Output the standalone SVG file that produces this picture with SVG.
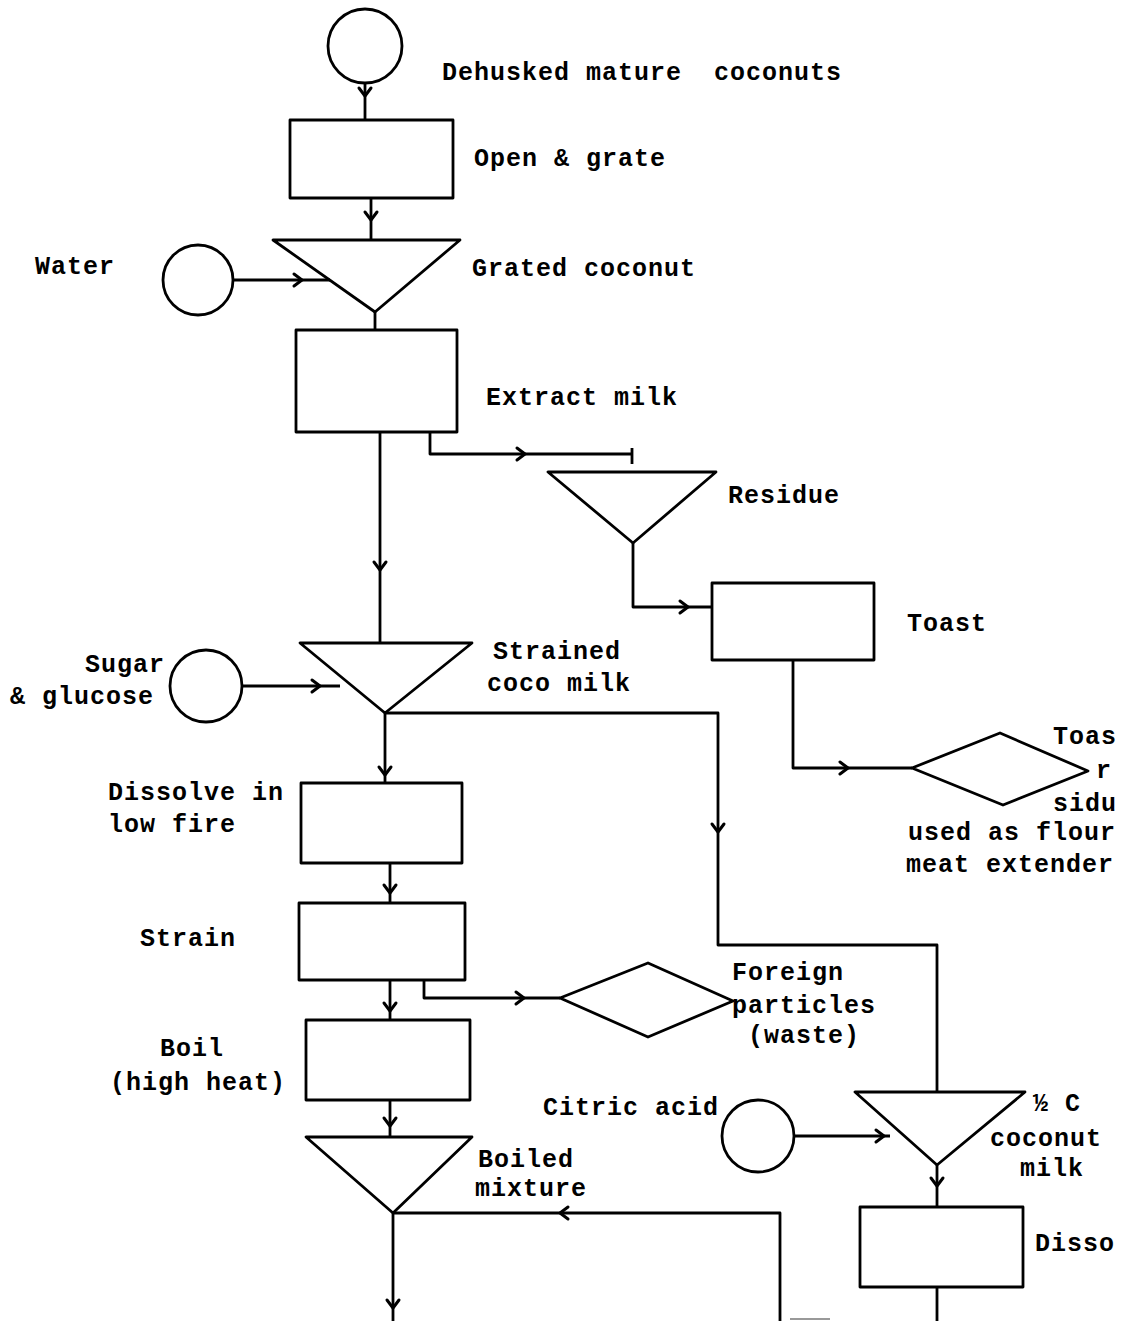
<svg xmlns="http://www.w3.org/2000/svg" xmlns:xlink="http://www.w3.org/1999/xlink" width="1143" height="1321" viewBox="0 0 1143 1321">
<style>
.s{fill:none;stroke:#000;stroke-width:2.8;stroke-linejoin:round;stroke-linecap:round}
.c{fill:none;stroke:#000;stroke-width:2.8;stroke-linejoin:round}
.a{fill:none;stroke:#000;stroke-width:3;stroke-linecap:round;stroke-linejoin:round}
text{font-family:"Liberation Mono","DejaVu Sans Mono",monospace;font-weight:bold;font-size:25px;letter-spacing:1px;fill:#000}
</style>
<defs>
<path id="ah" class="a" d="M-8,-6 L0,0 L-8,6"/>
</defs>
<rect width="1143" height="1321" fill="#fff"/>

<g id="connectors">
<path class="c" d="M365,83 V120"/>
<path class="c" d="M371,198 V240"/>
<path class="c" d="M233,280 H330"/>
<path class="c" d="M375,312 V330"/>
<path class="c" d="M430,432 V454 H632"/>
<path class="c" d="M632,448 V464"/>
<path class="c" d="M633,543 V607 H712"/>
<path class="c" d="M793,660 V768 H912"/>
<path class="c" d="M380,432 V643"/>
<path class="c" d="M242,686 H340"/>
<path class="c" d="M385,713 H718 V945 H937 V1092"/>
<path class="c" d="M385,713 V783"/>
<path class="c" d="M390,863 V903"/>
<path class="c" d="M424,980 V998 H560"/>
<path class="c" d="M390,980 V1020"/>
<path class="c" d="M390,1100 V1137"/>
<path class="c" d="M393,1213 V1321"/>
<path class="c" d="M780,1321 V1213 H393"/>
<path class="c" d="M794,1136 H890"/>
<path class="c" d="M937,1165 V1207"/>
<path class="c" d="M937,1287 V1321"/>
<path d="M790,1319 H830" stroke="#777" stroke-width="1.5"/>
<use xlink:href="#ah" transform="translate(365,96) rotate(90)"/>
<use xlink:href="#ah" transform="translate(371,220) rotate(90)"/>
<use xlink:href="#ah" transform="translate(302,280)"/>
<use xlink:href="#ah" transform="translate(525,454)"/>
<use xlink:href="#ah" transform="translate(688,607)"/>
<use xlink:href="#ah" transform="translate(848,768)"/>
<use xlink:href="#ah" transform="translate(380,570) rotate(90)"/>
<use xlink:href="#ah" transform="translate(320,686)"/>
<use xlink:href="#ah" transform="translate(718,832) rotate(90)"/>
<use xlink:href="#ah" transform="translate(385,775) rotate(90)"/>
<use xlink:href="#ah" transform="translate(390,893) rotate(90)"/>
<use xlink:href="#ah" transform="translate(524,998)"/>
<use xlink:href="#ah" transform="translate(390,1011) rotate(90)"/>
<use xlink:href="#ah" transform="translate(390,1126) rotate(90)"/>
<use xlink:href="#ah" transform="translate(393,1308) rotate(90)"/>
<use xlink:href="#ah" transform="translate(560,1213) rotate(180)"/>
<use xlink:href="#ah" transform="translate(884,1136)"/>
<use xlink:href="#ah" transform="translate(937,1186) rotate(90)"/>
</g>

<g id="n-coconuts"><circle class="s" cx="365" cy="46" r="37"/><text x="442" y="80" xml:space="preserve">Dehusked mature  coconuts</text></g>
<g id="n-open"><rect class="s" x="290" y="120" width="163" height="78"/><text x="474" y="166">Open &amp; grate</text></g>
<g id="n-water"><circle class="s" cx="198" cy="280" r="35"/><text x="35" y="274">Water</text></g>
<g id="n-grated"><path class="s" d="M273,240 H460 L375,312 Z"/><text x="472" y="276">Grated coconut</text></g>
<g id="n-extract"><rect class="s" x="296" y="330" width="161" height="102"/><text x="486" y="405">Extract milk</text></g>
<g id="n-residue"><path class="s" d="M548,472 H716 L633,543 Z"/><text x="728" y="503">Residue</text></g>
<g id="n-toast"><rect class="s" x="712" y="583" width="162" height="77"/><text x="907" y="631">Toast</text></g>
<g id="n-toasted"><path class="s" d="M912,768 L1000,733 L1088,771 L1003,805 Z"/>
<text x="1053" y="744">Toas</text><text x="1096" y="778">r</text><text x="1053" y="811">sidu</text>
<text x="908" y="840">used as flour</text><text x="906" y="872">meat extender</text></g>
<g id="n-sugar"><circle class="s" cx="206" cy="686" r="36"/><text x="85" y="672">Sugar</text><text x="10" y="704">&amp; glucose</text></g>
<g id="n-strained"><path class="s" d="M300,643 H472 L385,713 Z"/><text x="493" y="659">Strained</text><text x="487" y="691">coco milk</text></g>
<g id="n-dissolve"><rect class="s" x="301" y="783" width="161" height="80"/><text x="108" y="800">Dissolve in</text><text x="108" y="832">low fire</text></g>
<g id="n-strain"><rect class="s" x="299" y="903" width="166" height="77"/><text x="140" y="946">Strain</text></g>
<g id="n-foreign"><path class="s" d="M560,998 L648,963 L733,1001 L648,1037 Z"/><text x="732" y="980">Foreign</text><text x="732" y="1013">particles</text><text x="748" y="1043">(waste)</text></g>
<g id="n-boil"><rect class="s" x="306" y="1020" width="164" height="80"/><text x="160" y="1056">Boil</text><text x="110" y="1090">(high heat)</text></g>
<g id="n-boiled"><path class="s" d="M306,1137 H472 L393,1213 Z"/><text x="478" y="1167">Boiled</text><text x="475" y="1196">mixture</text></g>
<g id="n-citric"><circle class="s" cx="758" cy="1136" r="36"/><text x="543" y="1115">Citric acid</text></g>
<g id="n-halfc"><path class="s" d="M855,1092 H1025 L937,1165 Z"/><text x="1033" y="1111">½ C</text><text x="990" y="1146">coconut</text><text x="1020" y="1176">milk</text></g>
<g id="n-dissolve2"><rect class="s" x="860" y="1207" width="163" height="80"/><text x="1035" y="1251">Disso</text></g>
</svg>
